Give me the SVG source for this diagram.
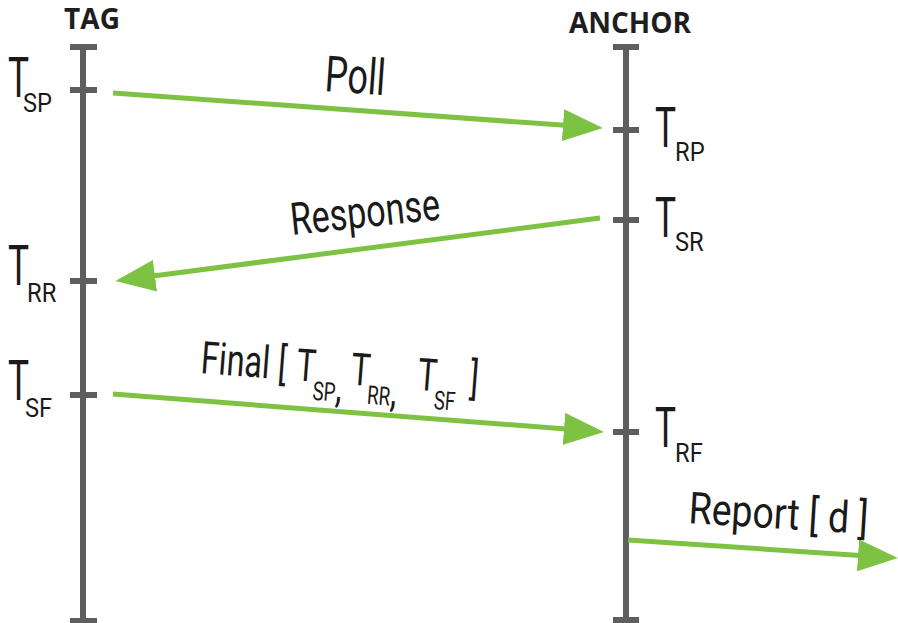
<svg xmlns="http://www.w3.org/2000/svg" width="898" height="623" viewBox="0 0 898 623">
  <style>
    .life { stroke: #5e5e5e; stroke-width: 6; fill: none; }
    .msg { stroke: #7dc243; stroke-width: 5; fill: none; marker-end: url(#head); }
    .hdr { font-family: "Open Sans", "Liberation Sans", sans-serif; font-weight: 700; font-size: 28px; fill: #1e1e1e; text-anchor: middle; }
    .big { font-family: Roboto, "Liberation Sans", sans-serif; font-size: 56px; fill: #1a1a1a; }
    .sub { font-family: Roboto, "Liberation Sans", sans-serif; font-size: 25px; fill: #1a1a1a; }
    .lbl { font-family: Roboto, "Liberation Sans", sans-serif; fill: #1a1a1a; }
  </style>
  <defs>
    <marker id="head" markerUnits="userSpaceOnUse" markerWidth="42" markerHeight="34" refX="2" refY="16" orient="auto">
      <path d="M0,0 L40,16 L0,32 Z" fill="#7dc243"/>
    </marker>
  </defs>
  <rect width="898" height="623" fill="#ffffff"/>

  <!-- TAG lifeline -->
  <g id="tag">
    <text class="hdr" x="92" y="29">TAG</text>
    <path class="life" d="M83,47 V623 M70,47 H97 M70,621 H97 M70,90 H97 M70,281 H97 M70,395 H97"/>
    <text class="big" transform="translate(8,97) scale(0.63,1)">T</text>
    <text class="sub" transform="translate(23,112) scale(0.95,1)">SP</text>
    <text class="big" transform="translate(8,285) scale(0.63,1)">T</text>
    <text class="sub" transform="translate(27,302) scale(0.95,1)">RR</text>
    <text class="big" transform="translate(8,400) scale(0.63,1)">T</text>
    <text class="sub" transform="translate(25,417) scale(0.95,1)">SF</text>
  </g>

  <!-- ANCHOR lifeline -->
  <g id="anchor">
    <text class="hdr" x="630" y="33">ANCHOR</text>
    <path class="life" d="M626,47 V623 M613,47 H639 M613,620 H639 M613,130 H639 M613,220 H639 M613,432 H639"/>
    <text class="big" transform="translate(655,147) scale(0.63,1)">T</text>
    <text class="sub" transform="translate(675,161) scale(0.95,1)">RP</text>
    <text class="big" transform="translate(655,237) scale(0.63,1)">T</text>
    <text class="sub" transform="translate(675,251) scale(0.95,1)">SR</text>
    <text class="big" transform="translate(655,447) scale(0.63,1)">T</text>
    <text class="sub" transform="translate(675,462) scale(0.95,1)">RF</text>
  </g>

  <!-- messages -->
  <g id="connectors">
    <line class="msg" x1="113" y1="93" x2="565" y2="125.3"/>
    <line class="msg" x1="600" y1="218" x2="153" y2="276"/>
    <line class="msg" x1="113" y1="394" x2="566" y2="429"/>
    <line class="msg" x1="628" y1="540" x2="860" y2="555.5"/>
  </g>

  <g id="labels">
    <text class="lbl" font-size="50" transform="translate(324,91) rotate(4) scale(0.72,1)">Poll</text>
    <text class="lbl" font-size="45" transform="translate(292,235) rotate(-6) scale(0.76,1)">Response</text>
    <text class="lbl" font-size="45" transform="translate(200,373) rotate(4.4) scale(0.72,1)">Final [<tspan dx="14">T</tspan><tspan font-size="26" dy="18" dx="-2">SP</tspan>,<tspan dy="-18"> T</tspan><tspan font-size="26" dy="18" dx="-2">RR</tspan>,<tspan dy="-18" dx="17"> T</tspan><tspan font-size="26" dy="18" dx="-2">SF</tspan><tspan dy="-18" dx="7"> ]</tspan></text>
    <text class="lbl" font-size="44" transform="translate(688,523) rotate(3.5) scale(0.85,1)">Report [ d ]</text>
  </g>
</svg>
